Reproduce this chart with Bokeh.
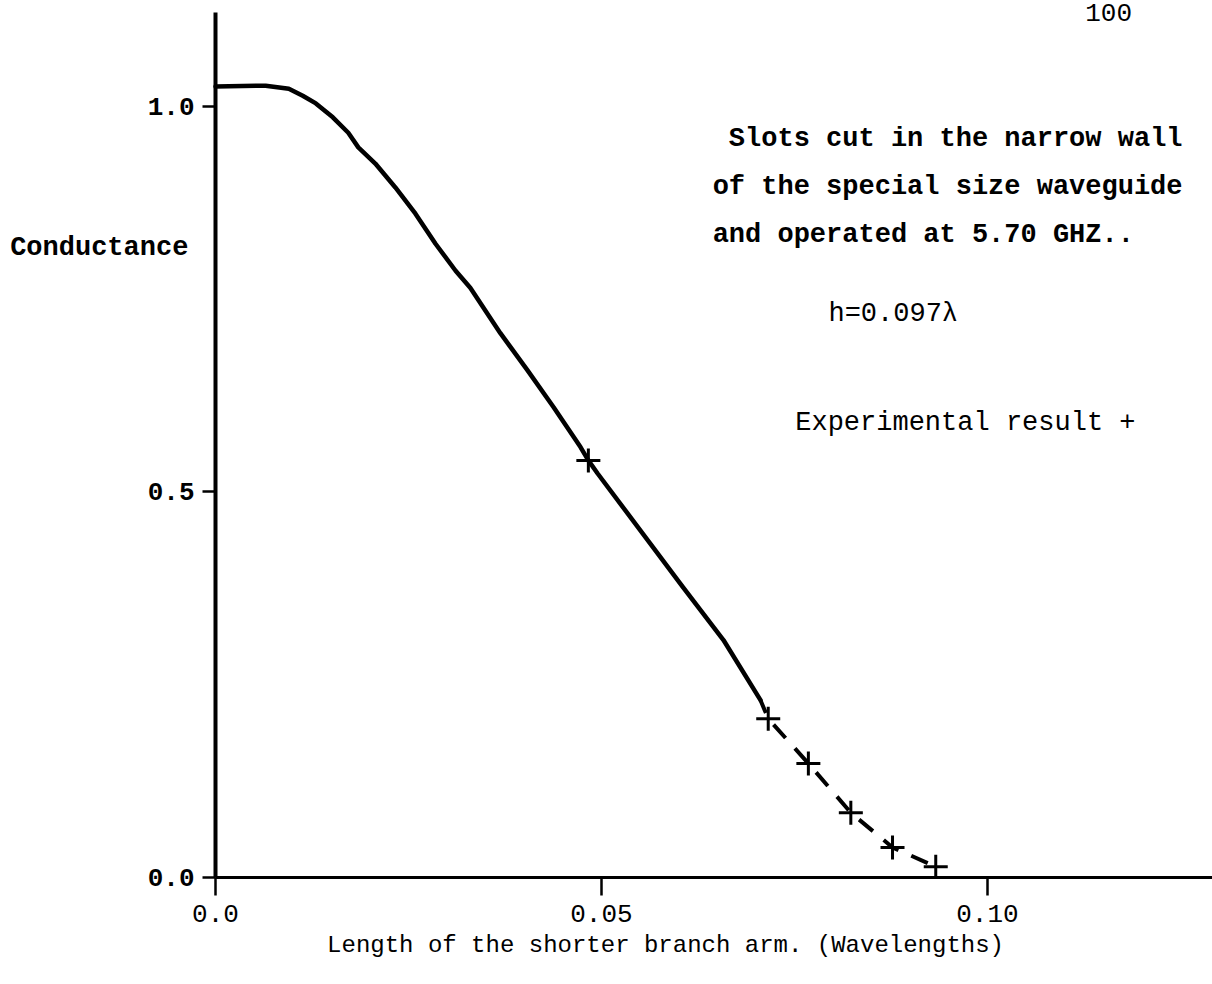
from bokeh.plotting import figure
from bokeh.models import Range1d, FixedTicker, Label, LinearAxis
from bokeh.embed import file_html
from bokeh.resources import INLINE

# ---- data ----
# theoretical curve (solid part)
curve_x = [0.0, 0.0065, 0.0095, 0.0113, 0.0130, 0.0152, 0.0172, 0.0185, 0.0207,
           0.0233, 0.0259, 0.0285, 0.0311, 0.0330, 0.0369, 0.0404, 0.0438, 0.0473,
           0.0483, 0.0495, 0.0606, 0.0658, 0.0706]
curve_y = [1.026, 1.027, 1.023, 1.014, 1.004, 0.986, 0.966, 0.947, 0.926,
           0.895, 0.861, 0.822, 0.787, 0.765, 0.706, 0.658, 0.610, 0.558,
           0.541, 0.524, 0.376, 0.308, 0.230]
# extrapolated (dashed) part
dash_x = [0.0706, 0.0716, 0.0768, 0.0823, 0.0877, 0.0933]
dash_y = [0.230, 0.206, 0.148, 0.084, 0.039, 0.014]
# experimental results (+)
exp_x = [0.0483, 0.0716, 0.0768, 0.0823, 0.0877, 0.0933]
exp_y = [0.541, 0.206, 0.148, 0.084, 0.039, 0.014]

x_ticks = [0.0, 0.05, 0.10]
x_tick_labels = ["0.0", "0.05", "0.10"]
y_ticks = [0.0, 0.5, 1.0]
y_tick_labels = ["0.0", "0.5", "1.0"]

FONT = "Liberation Mono"
X_END = 0.12915
Y_END = 1.122

p = figure(width=1212, height=984,
           x_range=Range1d(-0.02785, X_END), y_range=Range1d(-0.1388, 1.1375),
           output_backend="svg", toolbar_location=None, title=None,
           x_axis_location=None, y_axis_location=None,
           min_border_left=0, min_border_right=0,
           min_border_top=0, min_border_bottom=0)
p.grid.visible = False
p.outline_line_color = None
p.background_fill_color = "white"
p.border_fill_color = "white"

# axes (drawn at the origin, inside the frame)
xa = LinearAxis(fixed_location=0, bounds=(0, X_END))
xa.ticker = FixedTicker(ticks=x_ticks, minor_ticks=[])
xa.major_label_overrides = {t: s for t, s in zip(x_ticks, x_tick_labels)}
xa.axis_line_width = 3
xa.axis_line_color = "black"
xa.major_tick_line_width = 2.5
xa.major_tick_line_color = "black"
xa.major_tick_out = 18
xa.major_tick_in = 0
xa.minor_tick_out = 0
xa.minor_tick_in = 0
xa.major_label_standoff = 10
xa.major_label_text_font = FONT
xa.major_label_text_font_size = "26px"
xa.major_label_text_color = "black"
p.add_layout(xa, "below")

ya = LinearAxis(fixed_location=0, bounds=(0, Y_END))
ya.ticker = FixedTicker(ticks=y_ticks, minor_ticks=[])
ya.major_label_overrides = {t: s for t, s in zip(y_ticks, y_tick_labels)}
ya.axis_line_width = 4
ya.axis_line_color = "black"
ya.major_tick_line_width = 2.5
ya.major_tick_line_color = "black"
ya.major_tick_out = 13
ya.major_tick_in = 0
ya.minor_tick_out = 0
ya.minor_tick_in = 0
ya.major_label_standoff = 8
ya.major_label_text_font = FONT
ya.major_label_text_font_size = "26px"
ya.major_label_text_font_style = "bold"
ya.major_label_text_color = "black"
p.add_layout(ya, "left")

# curves
p.line(curve_x, curve_y, line_color="black", line_width=4.5, line_join="round", line_cap="round")
p.line(dash_x, dash_y, line_color="black", line_width=4, line_dash="18 14", line_dash_offset=4)
p.scatter(exp_x, exp_y, marker="cross", size=24, line_color="black", line_width=3)

# texts
def lab(x, y, text, size="27px", bold=False, align="left"):
    p.add_layout(Label(x=x, y=y, text=text, text_font=FONT, text_font_size=size,
                       text_font_style="bold" if bold else "normal",
                       text_align=align, text_baseline="middle", text_color="black"))

lab(-0.0266, 0.817, "Conductance", bold=True)
lab(0.0583, -0.0882, "Length of the shorter branch arm. (Wavelengths)", size="24px", align="center")
lab(0.0665, 0.958, "Slots cut in the narrow wall", bold=True)
lab(0.0644, 0.895, "of the special size waveguide", bold=True)
lab(0.0644, 0.833, "and operated at 5.70 GHZ..", bold=True)
lab(0.0794, 0.7315, "h=0.097\u03bb")
lab(0.0751, 0.589, "Experimental result +")
lab(0.1157, 1.1225, "100", size="26px", align="center")

open("out.html", "w").write(file_html(p, INLINE))
